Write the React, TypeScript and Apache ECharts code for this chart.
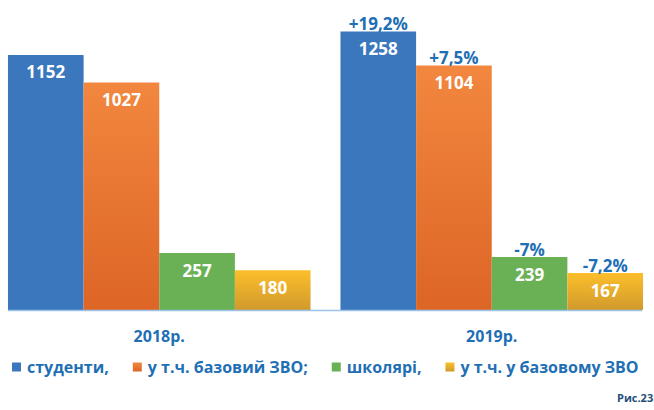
import React, { useEffect, useRef } from "react";
import * as echarts from "echarts";

const categories = ["2018р.", "2019р."];
const seriesNames = ["студенти,", "у т.ч. базовий ЗВО;", "школярі,", "у т.ч. у базовому ЗВО"];
const students = [1152, 1258];
const baseUniversity = [1027, 1104];
const pupils = [257, 239];
const pupilsBase = [180, 167];
const changes2019 = ["+19,2%", "+7,5%", "-7%", "-7,2%"];
const yMax = 1400;

const FONT = "'Open Sans', 'Noto Sans', sans-serif";
const BLUE_TEXT = "#1f6fb5";
const SHIFT = 7; // chart canvas starts 7px left of the visible page

export default function App() {
  const ref = useRef<HTMLDivElement>(null);
  useEffect(() => {
    if (!ref.current) return;
    const chart = echarts.init(ref.current, undefined, { renderer: "svg" });
    const grad = (top: string, bottom: string) =>
      new echarts.graphic.LinearGradient(0, 0, 0, 1, [
        { offset: 0, color: top },
        { offset: 1, color: bottom },
      ]);
    const fills = [
      "#3a77bd",
      grad("#f2873f", "#dd6526"),
      "#6ab155",
      grad("#fcbf2b", "#d09a2c"),
    ];
    const allData = [students, baseUniversity, pupils, pupilsBase];
    const series = allData.map((arr, si) => ({
      name: seriesNames[si],
      type: "bar",
      barGap: "0%",
      barCategoryGap: "9%",
      color: fills[si],
      itemStyle: { color: fills[si] },
      data: arr.map((v, i) =>
        i === 1 ? { value: v, label: { offset: [0, -23] } } : { value: v }
      ),
      label: {
        show: true,
        position: "insideTop",
        distance: 3.5,
        formatter: (p: any) =>
          p.dataIndex === 1
            ? `{p|${changes2019[si]}}\n{v|${p.value}}`
            : `{v|${p.value}}`,
        rich: {
          v: { color: "#ffffff", fontSize: 17, fontWeight: "bold", lineHeight: 27, fontFamily: FONT },
          p: { color: BLUE_TEXT, fontSize: 17, fontWeight: "bold", lineHeight: 23, fontFamily: FONT },
        },
      },
    }));
    chart.setOption({
      animation: false,
      grid: { left: 0, right: 0, top: 0, bottom: 100 },
      xAxis: {
        type: "category",
        data: categories,
        axisLine: { show: false },
        axisTick: { show: false },
        axisLabel: {
          margin: 18,
          color: BLUE_TEXT,
          fontSize: 16,
          fontWeight: "bold",
          fontFamily: FONT,
        },
      },
      yAxis: { type: "value", min: 0, max: yMax, show: false, splitLine: { show: false } },
      legend: {
        left: 12 + SHIFT,
        top: 359,
        padding: 0,
        itemWidth: 9,
        itemHeight: 9,
        itemGap: 24,
        icon: "rect",
        textStyle: { color: BLUE_TEXT, fontSize: 16, fontWeight: "bold", fontFamily: FONT, padding: [0, 0, 0, 1] },
        data: seriesNames,
      },
      graphic: [
        {
          type: "line",
          shape: { x1: 8 + SHIFT, y1: 310.5, x2: 642 + SHIFT, y2: 310.5 },
          style: { stroke: "#9cc3e5", lineWidth: 1.5 },
          z: 10,
        },
        {
          type: "text",
          left: 617 + SHIFT,
          top: 392,
          style: { text: "Рис.23", fill: "#1f4e79", font: `bold 11px ${FONT}` },
        },
      ],
      series,
    });
    return () => chart.dispose();
  }, []);
  return (
    <div style={{ position: "absolute", left: 0, top: 0, width: 654, height: 410, overflow: "hidden" }}>
      <div ref={ref} style={{ position: "absolute", left: -SHIFT, top: 0, width: 665, height: 410 }} />
    </div>
  );
}
